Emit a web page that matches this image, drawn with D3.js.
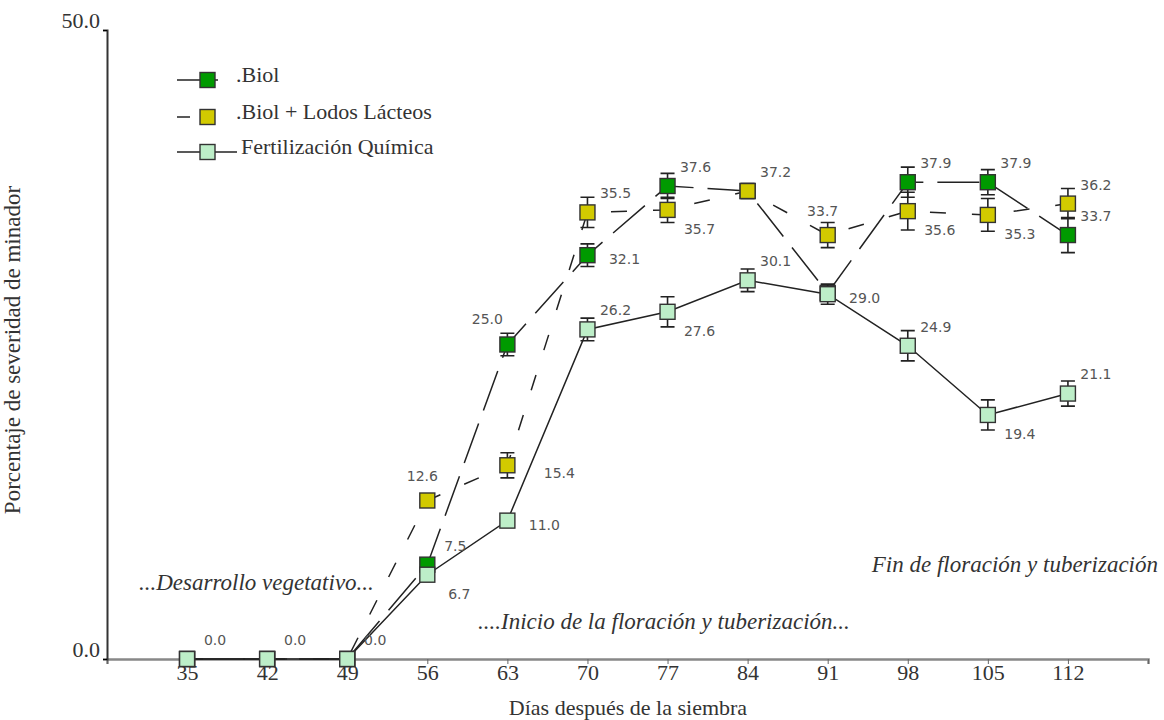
<!DOCTYPE html>
<html>
<head>
<meta charset="utf-8">
<script src="https://cdn.jsdelivr.net/npm/d3@7"></script>
<style>
  body { margin: 0; background: #fff; }
  text { font-family: "Liberation Serif", "Times New Roman", serif; }
  .val { font-family: "DejaVu Sans", sans-serif; font-size: 14px; fill: #555; }
  .note { font-style: italic; font-size: 23px; fill: #333; }
</style>
</head>
<body>
<script>
// days after sowing
var days = [35, 42, 49, 56, 63, 70, 77, 84, 91, 98, 105, 112];
var xTicks = [28, 35, 42, 49, 56, 63, 70, 77, 84, 91, 98, 105, 112, 119];
var yTicks = [0, 50];

// severity (%) per treatment
var biol      = [0, 0, 0, 7.5, 25.0, 32.1, 37.6, 37.2, 29.1, 37.9, 37.9, 33.7];
var biolLodos = [0, 0, 0, 12.6, 15.4, 35.5, 35.7, 37.2, 33.7, 35.6, 35.3, 36.2];
var quimica   = [0, 0, 0, 6.7, 11.0, 26.2, 27.6, 30.1, 29.0, 24.9, 19.4, 21.1];

// error bar half-lengths
var biolErr      = [0, 0, 0, 0, 0.9, 0.9, 1.0, 0.5, 0.5, 1.2, 1.0, 1.4];
var biolLodosErr = [0, 0, 0, 0, 1.0, 1.2, 1.0, 0.6, 1.0, 1.5, 1.3, 1.2];
var quimicaErr   = [0, 0, 0, 0, 0.5, 0.9, 1.2, 0.9, 0.8, 1.2, 1.2, 1.0];

// where the value label sits for each point
var biolLab      = ["", "", "", "tr", "tl", "r", "tr", "", "", "tr", "tr", "tr"];
var biolLodosLab = ["", "", "", "t", "rr", "tr", "br", "tr", "t", "br", "br", "tr"];
var quimicaLab   = ["tr", "tr", "tr", "br", "r", "tr", "br", "tr", "r", "tr", "br", "tr"];

var seriesNames = [".Biol", ".Biol + Lodos Lácteos", "Fertilización Química"];

var width = 1164, height = 720;

var svg = d3.select("body").append("svg")
    .attr("width", width)
    .attr("height", height);

var x = d3.scaleLinear().domain([28, 119]).range([107, 1148]);
var y = d3.scaleLinear().domain([0, 50]).range([659, 30]);

// x axis
var xAxis = d3.axisBottom(x)
    .tickValues(xTicks)
    .tickSize(5)
    .tickFormat(function(d) { return (d == 28 || d == 119) ? "" : d; });
var gx = svg.append("g").attr("transform", "translate(0," + y(0) + ")").call(xAxis);
gx.select(".domain").attr("stroke", "#888").attr("stroke-width", 2.5);
gx.selectAll(".tick line").attr("stroke", "#666");
gx.selectAll(".tick text")
    .attr("y", 3)
    .attr("dy", "0.8em")
    .style("font-family", "Liberation Serif, serif")
    .style("font-size", "22px")
    .attr("fill", "#333");

// y axis
var yAxis = d3.axisLeft(y).tickValues(yTicks).tickSize(4).tickFormat(d3.format(".1f"));
var gy = svg.append("g").attr("transform", "translate(" + x(28) + ",0)").call(yAxis);
gy.select(".domain").attr("stroke", "#333").attr("stroke-width", 2);
gy.selectAll(".tick text")
    .attr("x", -7)
    .attr("dy", "-0.1em")
    .style("font-family", "Liberation Serif, serif")
    .style("font-size", "22px")
    .attr("fill", "#333");

// axis titles
svg.append("text")
    .attr("x", 628).attr("y", 715)
    .attr("text-anchor", "middle")
    .style("font-size", "22px").attr("fill", "#333")
    .text("Días después de la siembra");
svg.append("text")
    .attr("transform", "translate(20,350) rotate(-90)")
    .attr("text-anchor", "middle")
    .style("font-size", "23px").attr("fill", "#333")
    .text("Porcentaje de severidad de minador");

// phase notes
svg.append("text").attr("class", "note").attr("x", 139).attr("y", 590)
    .text("...Desarrollo vegetativo...");
svg.append("text").attr("class", "note").attr("x", 478).attr("y", 629)
    .text("....Inicio de la floración y tuberización...");
svg.append("text").attr("class", "note").attr("x", 1158).attr("y", 572)
    .attr("text-anchor", "end")
    .text("Fin de floración y tuberización");

var series = [
    {name: seriesNames[0], vals: biol, err: biolErr, lab: biolLab, fill: "#009a00", dash: "42,14"},
    {name: seriesNames[1], vals: biolLodos, err: biolLodosErr, lab: biolLodosLab, fill: "#d2ca00", dash: "16,26"},
    {name: seriesNames[2], vals: quimica, err: quimicaErr, lab: quimicaLab, fill: "#bdeec8", dash: null}
];

var offsets = {
    tr: [28, -19], br: [32, 19], r: [37, 4], rr: [52, 8], tl: [-20, -25], t: [-5, -24]
};

var line = d3.line()
    .x(function(d) { return x(d.day); })
    .y(function(d) { return y(d.v); });

function pts(s) {
    return days.map(function(d, i) {
        return {day: d, v: s.vals[i], e: s.err[i], lab: s.lab[i]};
    });
}

// lines first
series.forEach(function(s) {
    svg.append("path")
        .datum(pts(s))
        .attr("d", line)
        .attr("fill", "none")
        .attr("stroke", "#222")
        .attr("stroke-width", 1.5)
        .attr("stroke-dasharray", s.dash);
});

// error bars and markers
series.forEach(function(s) {
    var g = svg.append("g");
    var p = pts(s).filter(function(d) { return d.e > 0; });
    g.selectAll(".eb").data(p).enter().append("path")
        .attr("d", function(d) {
            var cx = x(d.day), y1 = y(d.v + d.e), y2 = y(d.v - d.e);
            return "M" + (cx - 7) + "," + y1 + "H" + (cx + 7) +
                   "M" + cx + "," + y1 + "V" + y2 +
                   "M" + (cx - 7) + "," + y2 + "H" + (cx + 7);
        })
        .attr("stroke", "#222").attr("stroke-width", 1.6).attr("fill", "none");
    g.selectAll("rect").data(pts(s)).enter().append("rect")
        .attr("x", function(d) { return x(d.day) - 7.5; })
        .attr("y", function(d) { return y(d.v) - 7.5; })
        .attr("width", 15).attr("height", 15)
        .attr("fill", s.fill)
        .attr("stroke", "#333").attr("stroke-width", 1.4);
});

// value labels
series.forEach(function(s) {
    svg.append("g").selectAll("text")
        .data(pts(s).filter(function(d) { return d.lab; }))
        .enter().append("text")
        .attr("class", "val")
        .attr("x", function(d) { return x(d.day) + offsets[d.lab][0]; })
        .attr("y", function(d) { return y(d.v) + offsets[d.lab][1]; })
        .attr("text-anchor", "middle")
        .attr("dy", "0.35em")
        .text(function(d) { return d3.format(".1f")(d.v); });
});

// legend
var leg = svg.append("g");
var legY = [80, 117, 152];
series.forEach(function(s, i) {
    var ly = legY[i];
    var x2 = i == 0 ? 218 : (i == 1 ? 190 : 237);
    leg.append("line").attr("x1", 177).attr("x2", x2).attr("y1", ly).attr("y2", ly)
        .attr("stroke", "#222").attr("stroke-width", 1.5);
    leg.append("rect")
        .attr("x", 200).attr("y", ly - 7.5)
        .attr("width", 15).attr("height", 15)
        .attr("fill", s.fill).attr("stroke", "#333").attr("stroke-width", 1.4);
    leg.append("text")
        .attr("x", i == 2 ? 241 : 236).attr("y", ly + 2)
        .style("font-size", "22px").attr("fill", "#333")
        .text(s.name);
});
</script>
</body>
</html>
